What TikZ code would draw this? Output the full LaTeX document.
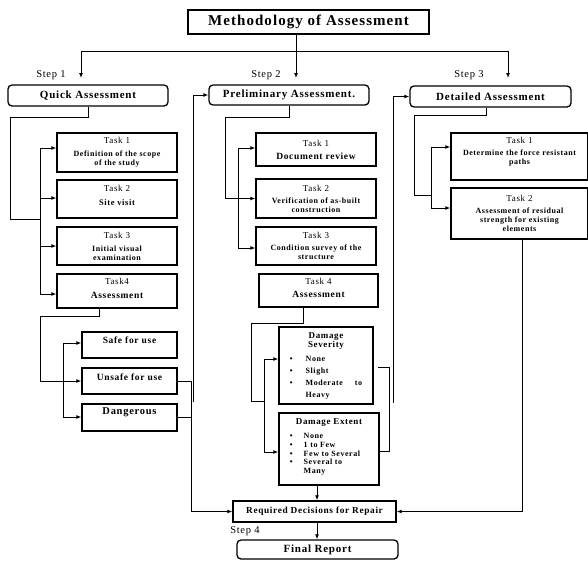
\documentclass[tikz,border=0pt]{standalone}
\usepackage{fontspec}
\setmainfont{Liberation Serif}[LetterSpace=7]
\usetikzlibrary{arrows.meta}

\newcommand{\descr}[1]{{\bfseries\fontsize{8}{9}\selectfont #1}}
\newcommand{\bigdescr}[1]{{\bfseries\fontsize{9.5}{10}\selectfont #1}}

\tikzset{
  boxline/.style={draw, line width=1.3pt},
  headbox/.style={boxline, rounded corners=4pt, inner sep=0pt, font=\bfseries\fontsize{11}{12}\selectfont},
  taskbox/.style={boxline, align=center, inner sep=1pt, font=\fontsize{9}{9}\selectfont},
  outcome/.style={boxline, inner sep=0pt, minimum width=95, minimum height=26, font=\bfseries\fontsize{9.5}{10}\selectfont},
  link/.style={line width=1pt},
  arr/.style={link, -{Latex[length=5pt,width=4pt]}},
  steplabel/.style={font=\fontsize{10.5}{11}\selectfont},
}

\begin{document}
\begin{tikzpicture}[x=1pt,y=-1pt]
  \useasboundingbox (0,0) rectangle (588,560);

  % title and the three steps
  \node[boxline, minimum width=241, minimum height=24, inner sep=0pt, font=\bfseries\fontsize{15}{16}\selectfont] (title) at (308.5,22) {Methodology of Assessment};
  \node[headbox, minimum width=160, minimum height=21] (quick) at (88,95.5) {Quick Assessment};
  \node[headbox, minimum width=160, minimum height=20] (prelim) at (289,95) {Preliminary Assessment.};
  \node[headbox, minimum width=161, minimum height=21] (detailed) at (490.5,96.5) {Detailed Assessment};
  \node[steplabel] (step1) at (51,75) {Step 1};
  \node[steplabel] (step2) at (266,75) {Step 2};
  \node[steplabel] (step3) at (469,75) {Step 3};
  \coordinate (s1) at (81,78);
  \coordinate (s2) at (296,78);
  \coordinate (s3) at (508,78);
  \coordinate (hl) at (81,51);
  \coordinate (hr) at (508,51);
  \draw[arr] (title.south -| s2) -- (s2);
  \draw[link] (hl) -- (hr);
  \draw[arr] (hl) -- (s1);
  \draw[arr] (hr) -- (s3);

  % step 1: quick assessment
  \node[taskbox, minimum width=120, minimum height=39] (qt1) at (117,152.5) {Task 1\\[4pt]\descr{Definition of the scope}\\\descr{of the study}};
  \node[taskbox, minimum width=120, minimum height=38, text depth=8] (qt2) at (117,199) {Task 2\\[5pt]{\bfseries\fontsize{8.5}{9}\selectfont Site visit}};
  \node[taskbox, minimum width=120, minimum height=38] (qt3) at (117,246) {Task 3\\[4pt]\descr{Initial visual}\\\descr{examination}};
  \node[taskbox, minimum width=120, minimum height=34, text depth=6] (qt4) at (117,291) {Task4\\[5pt]\bigdescr{Assessment}};
  \draw[link] (quick.south) -- ++(0,11) -| (10,219) -- (40,219);
  \draw[link] (40,148) -- (40,294);
  \foreach \n/\y in {qt1/148,qt2/198,qt3/246,qt4/294}
    \draw[arr] (40,\y) -- (\n.west |- 0,\y);

  \node[outcome, text depth=10] (safe) at (129.5,345) {Safe for use};
  \node[outcome, text depth=8] (unsafe) at (129.5,381) {Unsafe for use};
  \node[outcome, minimum height=27, text depth=12, font=\bfseries\fontsize{10.5}{11}\selectfont] (dang) at (129.5,417.5) {Dangerous};
  \draw[arr] (qt4.south -| 99,0) -- (99,316) -| (40,381) -- (unsafe.west);
  \draw[link] (63,343) -- (63,417);
  \draw[arr] (63,343) -- (safe.west |- 0,343);
  \draw[arr] (63,417) -- (dang.west |- 0,417);

  % step 2: preliminary assessment
  \node[taskbox, minimum width=120, minimum height=33] (pt1) at (316,149.5) {Task 1\\[4pt]\bigdescr{Document review}};
  \node[taskbox, minimum width=120, minimum height=39] (pt2) at (316,198.5) {Task 2\\[3pt]\descr{Verification of as-built}\\\descr{construction}};
  \node[taskbox, minimum width=120, minimum height=38] (pt3) at (316,246) {Task 3\\[3pt]\descr{Condition survey of the}\\\descr{structure}};
  \node[taskbox, minimum width=119, minimum height=33, text depth=5] (pt4) at (318.5,290.5) {Task 4\\[4pt]\bigdescr{Assessment}};
  \draw[arr] (prelim.south) -- ++(0,12) -| (225,198.5) -- (pt2.west);
  \draw[link] (238,148) -- (238,248);
  \draw[arr] (238,148) -- (pt1.west |- 0,148);
  \draw[arr] (238,248) -- (pt3.west |- 0,248);

  \node[boxline, minimum width=94, minimum height=77, inner sep=0pt, font=\bfseries\fontsize{8}{12}\selectfont] (sev) at (326,365.5)
    {\begin{tabular}{@{}c@{\hspace{13pt}}l@{}}
      \multicolumn{2}{c}{\fontsize{9}{9}\selectfont Damage}\\[-3pt]
      \multicolumn{2}{c}{\fontsize{9}{9}\selectfont Severity}\\[2pt]
      \textbullet & None\\
      \textbullet & Slight\\
      \textbullet & Moderate\hspace{12pt}to\\
      & Heavy
    \end{tabular}};
  \node[boxline, minimum width=100, minimum height=72, inner sep=0pt, font=\bfseries\fontsize{8}{8.6}\selectfont] (ext) at (329,449)
    {\begin{tabular}{@{}c@{\hspace{11pt}}l@{}}
      \multicolumn{2}{l}{\fontsize{9}{9}\selectfont Damage Extent}\\[6pt]
      \textbullet & None\\
      \textbullet & 1 to Few\\
      \textbullet & Few to Several\\
      \textbullet & Several to\\
      & Many\\[4pt]
    \end{tabular}};
  \draw[link] (pt4.south -| 303,0) -- (303,323) -| (251,401) -- (264,401);
  \draw[link] (264,359) -- (264,452);
  \draw[arr] (264,359) -- (sev.west |- 0,359);
  \draw[arr] (264,452) -- (ext.west |- 0,452);

  % step 3: detailed assessment
  \node[taskbox, minimum width=137, minimum height=47, text depth=12] (dt1) at (519.5,156.5) {Task 1\\[3pt]\descr{Determine the force resistant}\\\descr{paths}};
  \node[taskbox, minimum width=137, minimum height=51] (dt2) at (519.5,213.5) {Task 2\\[3pt]\descr{Assessment of residual}\\\descr{strength for existing}\\\descr{elements}};
  \draw[link] (detailed.south -| 486,0) -- (486,115) -| (414,195) -- (431,195);
  \draw[link] (431,147) -- (431,208);
  \draw[arr] (431,147) -- (dt1.west |- 0,147);
  \draw[arr] (431,208) -- (dt2.west |- 0,208);

  % decisions and report
  \node[boxline, minimum width=163, minimum height=21, inner sep=0pt, font=\bfseries\fontsize{9.3}{10}\selectfont] (req) at (314.5,511.5) {Required Decisions for Repair};
  \node[headbox, minimum width=161, minimum height=19, font=\bfseries\fontsize{11}{12}\selectfont] (final) at (317.5,549.5) {Final Report};
  \node[steplabel] (step4) at (245,531) {Step 4};

  \draw[arr] (unsafe.east) -| (191,511.5) -- (req.west);
  \draw[link] (dang.east) -- (dang.east -| 191,0);
  \draw[arr] (193,402) |- (prelim.west);
  \draw[link] (378,367) -| (389,451) -- (ext.east |- 0,451);
  \draw[arr] (393,403) |- (detailed.west);
  \draw[arr] (ext.south -| 317,0) -- (req.north -| 317,0);
  \draw[arr] (dt2.south -| 522,0) |- (req.east);
  \draw[arr] (req.south -| 317,0) -- (final.north -| 317,0);
\end{tikzpicture}
\end{document}
